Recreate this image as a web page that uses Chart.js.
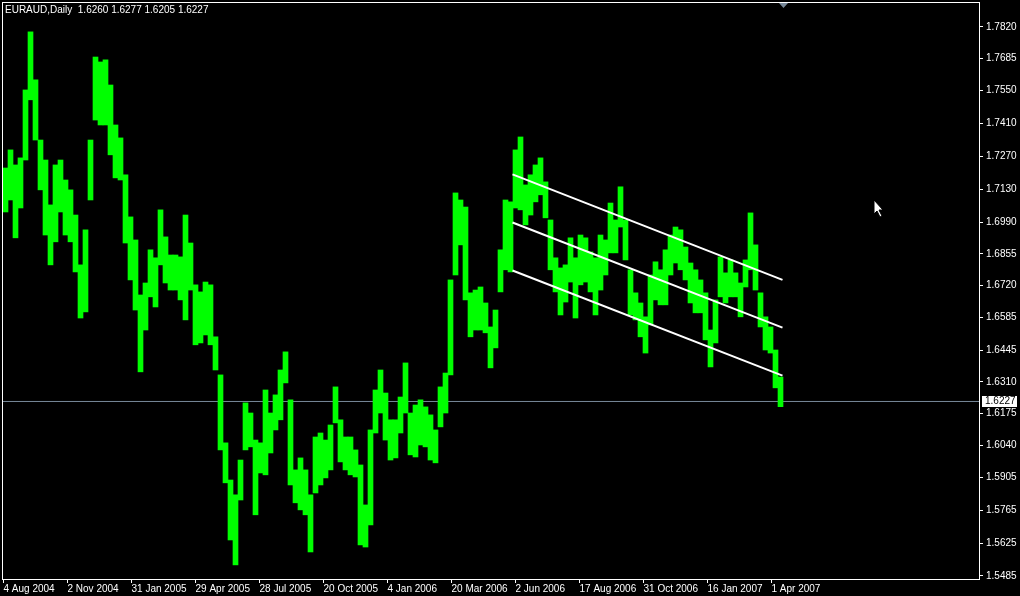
<!DOCTYPE html>
<html>
<head>
<meta charset="utf-8">
<title>EURAUD,Daily</title>
<script src="https://cdn.jsdelivr.net/npm/chart.js@4.4.0/dist/chart.umd.min.js"></script>
<style>
  html, body { margin: 0; padding: 0; background: #000; }
  #myChart { display: block; }
</style>
</head>
<body>
<canvas id="myChart" width="1020" height="596"></canvas>
<script>
const ctx = document.getElementById('myChart');

// symbol + last bar (open, high, low, close)
const symbol = 'EURAUD,Daily';
const lastOHLC = [1.6260, 1.6277, 1.6205, 1.6227];

// daily bars, 5 bars per group: high / low of each group
const groupSize = 5;
const groupHigh = [
  1.7220, 1.7297, 1.7233, 1.7263, 1.7552, 1.7799, 1.7595, 1.7339, 1.7254, 1.7063,
  1.7233, 1.7254, 1.7169, 1.7127, 1.7020, 1.6808, 1.6957, 1.7339, 1.7692, 1.7671,
  1.7680, 1.7573, 1.7403, 1.7348, 1.7191, 1.7012, 1.6914, 1.6680, 1.6731, 1.6872,
  1.6838, 1.7042, 1.6927, 1.6850, 1.6850, 1.6842, 1.7020, 1.6901, 1.6723, 1.6693,
  1.6735, 1.6723, 1.6502, 1.6340, 1.6051, 1.5893, 1.5830, 1.5978, 1.6221, 1.6178,
  1.6063, 1.6051, 1.6276, 1.6178, 1.6255, 1.6361, 1.6438, 1.6234, 1.5936, 1.5987,
  1.5936, 1.5830, 1.6076, 1.6093, 1.6063, 1.6127, 1.6289, 1.6149, 1.6076, 1.6076,
  1.6021, 1.5957, 1.5787, 1.6106, 1.6276, 1.6361, 1.6263, 1.6149, 1.6149, 1.6246,
  1.6391, 1.6178, 1.6212, 1.6234, 1.6204, 1.6170, 1.6106, 1.6289, 1.6348, 1.6744,
  1.7114, 1.7084, 1.7054, 1.6689, 1.6701, 1.6714, 1.6646, 1.6544, 1.6616, 1.6872,
  1.7084, 1.7076, 1.7297, 1.7352, 1.7148, 1.7191, 1.7233, 1.7263, 1.7161, 1.6999,
  1.6838, 1.6795, 1.6808, 1.6923, 1.6838, 1.6935, 1.6923, 1.6863, 1.6838, 1.6935,
  1.6914, 1.7071, 1.6999, 1.7140, 1.6999, 1.6787, 1.6689, 1.6646, 1.6587, 1.6765,
  1.6821, 1.6787, 1.6872, 1.6935, 1.6969, 1.6957, 1.6884, 1.6816, 1.6787, 1.6744,
  1.6689, 1.6531, 1.6659, 1.6842, 1.6774, 1.6829, 1.6774, 1.6731, 1.6829, 1.7029,
  1.6893, 1.6689, 1.6587, 1.6544, 1.6446, 1.6331
];
const groupLow = [
  1.7033, 1.7084, 1.6923, 1.7050, 1.7254, 1.7510, 1.7339, 1.7127, 1.6935, 1.6808,
  1.6906, 1.7033, 1.6935, 1.6906, 1.6778, 1.6582, 1.6608, 1.7084, 1.7424, 1.7403,
  1.7403, 1.7276, 1.7178, 1.7169, 1.6901, 1.6744, 1.6616, 1.6353, 1.6531, 1.6672,
  1.6629, 1.6808, 1.6731, 1.6701, 1.6701, 1.6659, 1.6574, 1.6701, 1.6468, 1.6476,
  1.6510, 1.6468, 1.6361, 1.6021, 1.5881, 1.5638, 1.5532, 1.5808, 1.6021, 1.6034,
  1.5745, 1.5923, 1.5915, 1.6008, 1.6106, 1.6149, 1.6306, 1.5872, 1.5796, 1.5766,
  1.5745, 1.5587, 1.5838, 1.5872, 1.5902, 1.5936, 1.6136, 1.5970, 1.5936, 1.5915,
  1.5906, 1.5617, 1.5608, 1.5702, 1.6093, 1.6178, 1.6063, 1.5978, 1.5987, 1.6093,
  1.6178, 1.6000, 1.5991, 1.6042, 1.6034, 1.5978, 1.5966, 1.6119, 1.6178, 1.6340,
  1.6765, 1.6893, 1.6659, 1.6502, 1.6531, 1.6531, 1.6519, 1.6370, 1.6455, 1.6693,
  1.6787, 1.6778, 1.7050, 1.7042, 1.6978, 1.7020, 1.7076, 1.7106, 1.7008, 1.6787,
  1.6693, 1.6595, 1.6650, 1.6735, 1.6582, 1.6723, 1.6735, 1.6693, 1.6595, 1.6701,
  1.6765, 1.6859, 1.6859, 1.6969, 1.6829, 1.6595, 1.6574, 1.6502, 1.6433, 1.6553,
  1.6659, 1.6638, 1.6638, 1.6765, 1.6816, 1.6787, 1.6744, 1.6646, 1.6604, 1.6604,
  1.6489, 1.6374, 1.6476, 1.6672, 1.6646, 1.6672, 1.6672, 1.6587, 1.6714, 1.6787,
  1.6701, 1.6544, 1.6446, 1.6433, 1.6285, 1.6205
];

// drawn channel (bar number, price)
const channelX = [509, 779];
const channelUpper = [1.7193, 1.6744];
const channelMiddle = [1.6988, 1.6541];
const channelLower = [1.6784, 1.6337];

// axis labels
const dateLabels = ['4 Aug 2004', '2 Nov 2004', '31 Jan 2005', '29 Apr 2005', '28 Jul 2005',
  '20 Oct 2005', '4 Jan 2006', '20 Mar 2006', '2 Jun 2006', '17 Aug 2006',
  '31 Oct 2006', '16 Jan 2007', '1 Apr 2007'];
const dateStep = 64; // bars between date labels
const priceTicks = ['1.7820', '1.7685', '1.7550', '1.7410', '1.7270', '1.7130', '1.6990',
  '1.6855', '1.6720', '1.6585', '1.6445', '1.6310', '1.6175', '1.6040',
  '1.5905', '1.5765', '1.5625', '1.5485'];

const FONT = 'Liberation Sans';
const GREEN = '#00ff00';
const SLATE = '#778899';

const bars = groupHigh.map((h, i) => ({ x: i * groupSize + 2, y: [groupLow[i], h] }));
const toPts = (ys) => channelX.map((x, i) => ({ x: x, y: ys[i] }));
const barCount = groupHigh.length * groupSize;

// frame, header, price box, shift marker, mouse pointer
const mtPlugin = {
  id: 'mt',
  afterDraw(chart) {
    const c = chart.ctx, a = chart.chartArea;
    const xs = chart.scales.x, ys = chart.scales.y;
    c.save();
    c.strokeStyle = '#fff';
    c.lineWidth = 1;
    c.strokeRect(a.left + 0.5, a.top + 0.5, a.right - a.left - 1, a.bottom - a.top);

    c.font = '10px "' + FONT + '"';
    c.fillStyle = '#fff';
    c.textBaseline = 'middle';
    c.textAlign = 'left';
    c.fillText(symbol + '  ' + lastOHLC.map(v => v.toFixed(4)).join(' '), 5, 10);

    // last price box
    const py = Math.round(ys.getPixelForValue(lastOHLC[3]));
    c.fillStyle = '#fff';
    c.fillRect(a.right + 2, py - 5, 35, 11);
    c.fillStyle = '#000';
    c.fillText(lastOHLC[3].toFixed(4), a.right + 5, py + 0.5);

    // chart shift marker
    const sx = Math.round(xs.getPixelForValue(barCount - 1));
    c.fillStyle = SLATE;
    c.beginPath();
    c.moveTo(sx - 4, a.top + 1);
    c.lineTo(sx + 5, a.top + 1);
    c.lineTo(sx + 0.5, a.top + 6);
    c.closePath();
    c.fill();

    // mouse pointer
    c.translate(874, 200);
    c.beginPath();
    c.moveTo(0, 0); c.lineTo(0, 14); c.lineTo(3, 11); c.lineTo(6, 17);
    c.lineTo(8, 16); c.lineTo(5, 10); c.lineTo(9, 10); c.closePath();
    c.fillStyle = '#fff';
    c.fill();
    c.strokeStyle = '#000';
    c.stroke();
    c.restore();
  }
};

new Chart(ctx, {
  type: 'bar',
  data: {
    datasets: [
      {
        type: 'line',
        data: [{ x: -1.5, y: lastOHLC[3] }, { x: 976.5, y: lastOHLC[3] }],
        borderColor: SLATE, borderWidth: 1, pointRadius: 0, order: 3
      },
      {
        data: bars,
        backgroundColor: GREEN,
        borderWidth: 0,
        barPercentage: 1,
        categoryPercentage: 1,
        grouped: false,
        order: 2
      },
      { type: 'line', data: toPts(channelUpper), borderColor: '#fff', borderWidth: 2, pointRadius: 0, order: 1 },
      { type: 'line', data: toPts(channelMiddle), borderColor: '#fff', borderWidth: 2, pointRadius: 0, order: 1 },
      { type: 'line', data: toPts(channelLower), borderColor: '#fff', borderWidth: 2, pointRadius: 0, order: 1 }
    ]
  },
  options: {
    responsive: false,
    devicePixelRatio: 1,
    animation: false,
    events: [],
    layout: { padding: { left: 2, top: 2, right: 0, bottom: 0 } },
    plugins: { legend: { display: false }, tooltip: { enabled: false } },
    scales: {
      x: {
        type: 'linear',
        min: -1.5,
        max: 976.5,
        offset: false,
        afterBuildTicks: (s) => { s.ticks = dateLabels.map((d, i) => ({ value: i * dateStep })); },
        afterFit: (s) => { s.height = 17; s.paddingLeft = 0; s.paddingRight = 0; },
        ticks: {
          autoSkip: false,
          maxRotation: 0,
          align: 'start',
          padding: 0,
          color: '#fff',
          font: { family: FONT, size: 10 },
          callback: (v) => dateLabels[Math.round(v / dateStep)]
        },
        grid: { display: true, drawOnChartArea: false, drawTicks: true, tickLength: 4, color: '#fff', offset: false },
        border: { display: false }
      },
      y: {
        position: 'right',
        min: 1.5472,
        max: 1.7926,
        afterBuildTicks: (s) => { s.ticks = priceTicks.map(t => ({ value: parseFloat(t) })); },
        // keep the plot flush with the top: no room reserved for half a label
        afterFit: (s) => { s.width = 40; s.paddingTop = 0; s.paddingBottom = 0; },
        ticks: {
          padding: 3,
          color: '#fff',
          font: { family: FONT, size: 10 },
          callback: (v) => v.toFixed(4)
        },
        grid: { display: true, drawOnChartArea: false, drawTicks: true, tickLength: 3, color: '#fff' },
        border: { display: false }
      }
    }
  },
  plugins: [mtPlugin]
});
</script>
</body>
</html>
